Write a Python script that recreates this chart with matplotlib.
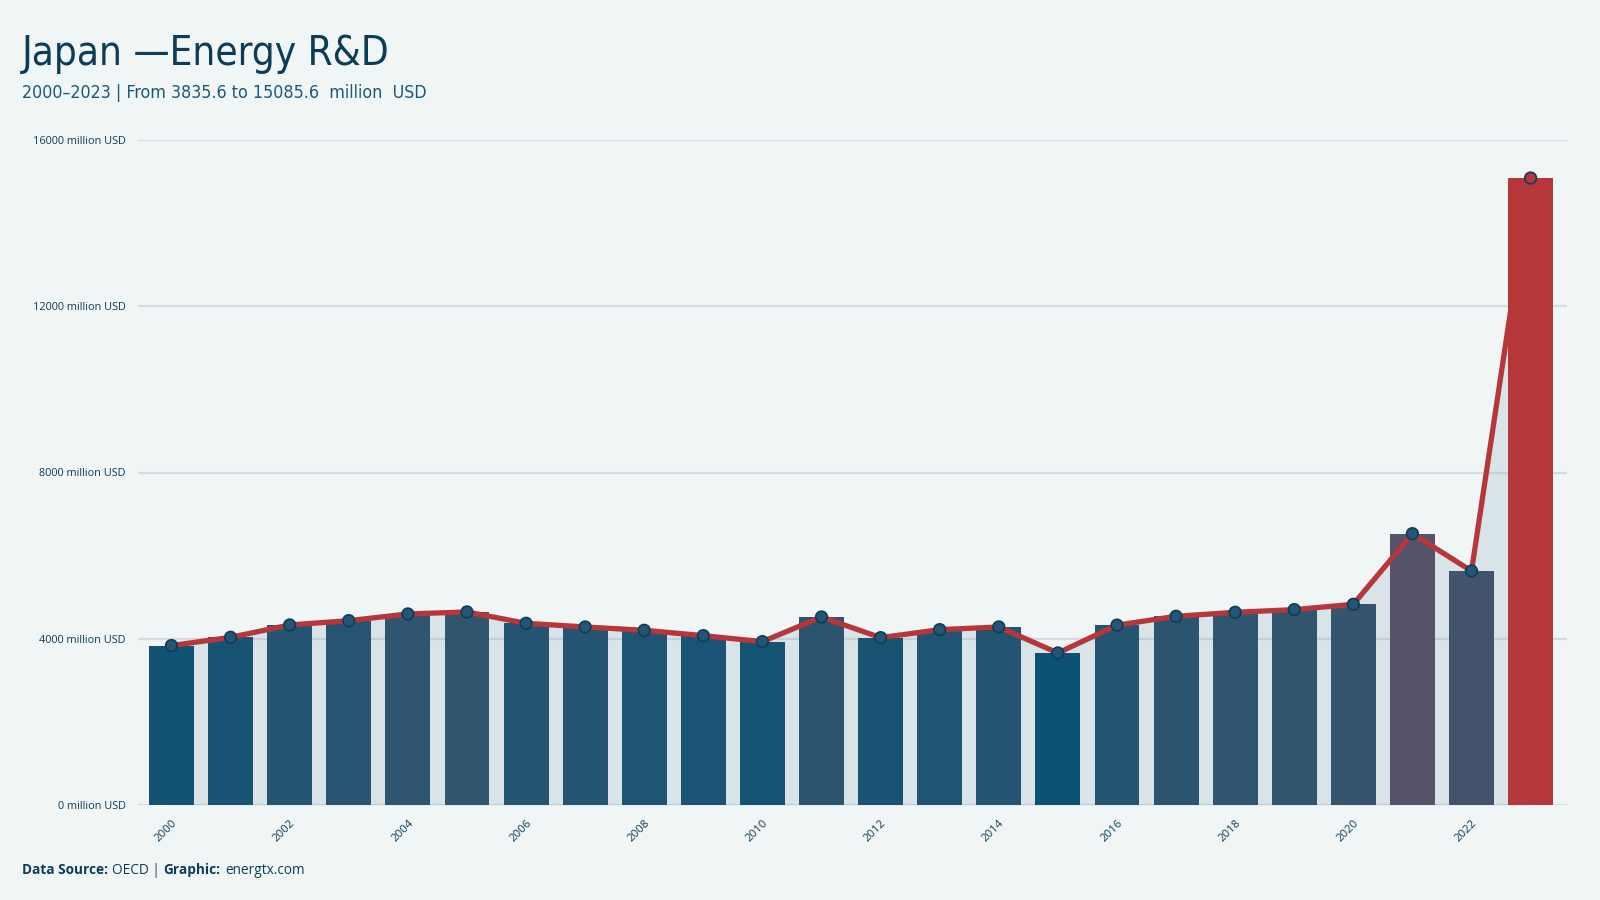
import matplotlib
matplotlib.use("Agg")
import matplotlib.pyplot as plt
import numpy as np
from matplotlib.colors import LinearSegmentedColormap, Normalize

years = list(range(2000, 2024))
values = [3835.6, 4034, 4331, 4435, 4596, 4644, 4371, 4283, 4203, 4074,
          3930, 4523, 4026, 4219, 4283, 3657, 4327, 4540, 4636, 4700,
          4828, 6528, 5630, 15085.6]
ytick_vals = [0, 4000, 8000, 12000, 16000]
ytick_labels = [f"{v} million USD" for v in ytick_vals]
xtick_years = list(range(2000, 2023, 2))

title = "Japan —Energy R&D"
subtitle = "2000–2023 | From 3835.6 to 15085.6  million  USD"

BG = "#f0f5f5"
NAVY = "#0d3d56"
RED = "#b5373a"

cmap = LinearSegmentedColormap.from_list(
    "bars", [(0.0, "#0b5275"), (0.09, "#32556f"), (0.25, "#55526a"), (1.0, RED)])
norm = Normalize(vmin=min(values), vmax=max(values))
bar_colors = [cmap(norm(v)) for v in values]

fig = plt.figure(figsize=(16, 9), dpi=100, facecolor=BG)
ax = fig.add_axes([0.08625, 0.1056, 0.8932, 0.7388])
ax.set_facecolor(BG)

x = np.array(years, dtype=float)
ax.fill_between(x, values, 0, color="#d8e4e8", zorder=1, linewidth=0)
for yv in ytick_vals:
    ax.axhline(yv, color="#7d97a3", alpha=0.25, lw=1.6, zorder=2)
ax.bar(x, values, width=0.76, color=bar_colors, zorder=3, linewidth=0)
ax.plot(x, values, color=RED, lw=3.8, zorder=4, solid_capstyle="round")
mfc = ["#245576"] * (len(values) - 1) + [RED]
ax.scatter(x, values, s=70, c=mfc, edgecolors=NAVY, linewidths=1.2, zorder=5)

ax.set_xlim(1999.433, 2023.618)
ax.set_ylim(0, 16000)
ax.set_yticks(ytick_vals)
ax.set_yticklabels(ytick_labels, fontsize=7.8, color=NAVY, family="Open Sans")
ax.set_xticks(xtick_years)
ax.set_xticklabels([str(y) for y in xtick_years], rotation=45, ha="right",
                   rotation_mode="anchor", fontsize=8.2, color=NAVY, family="Open Sans")
ax.tick_params(axis="both", length=0)
ax.tick_params(axis="y", pad=9)
ax.tick_params(axis="x", pad=9)
for s in ax.spines.values():
    s.set_visible(False)

fig.text(0.01375, 0.928, title, fontsize=29, color=NAVY,
         family="DejaVu Sans", stretch="condensed", va="baseline")
fig.text(0.01375, 0.891, subtitle, fontsize=12.8, color="#1d5878",
         family="DejaVu Sans", stretch="condensed", va="baseline")

# footer
fy = 0.029
t1 = fig.text(0.01375, fy, "Data Source:", fontsize=9.8, color=NAVY, weight="bold",
              family="Open Sans", va="baseline")
fig.canvas.draw()
r = fig.canvas.get_renderer()
def nxt(t, gap=4):
    bb = t.get_window_extent(renderer=r)
    return (bb.x1 + gap) / fig.bbox.width
t2 = fig.text(nxt(t1), fy, "OECD |", fontsize=9.8, color=NAVY, family="Open Sans", va="baseline")
t3 = fig.text(nxt(t2), fy, "Graphic:", fontsize=9.8, color=NAVY, weight="bold",
              family="Open Sans", va="baseline")
t4 = fig.text(nxt(t3), fy, "energtx.com", fontsize=9.8, color=NAVY, family="Open Sans", va="baseline")

fig.savefig("out.png", dpi=100, facecolor=BG)
